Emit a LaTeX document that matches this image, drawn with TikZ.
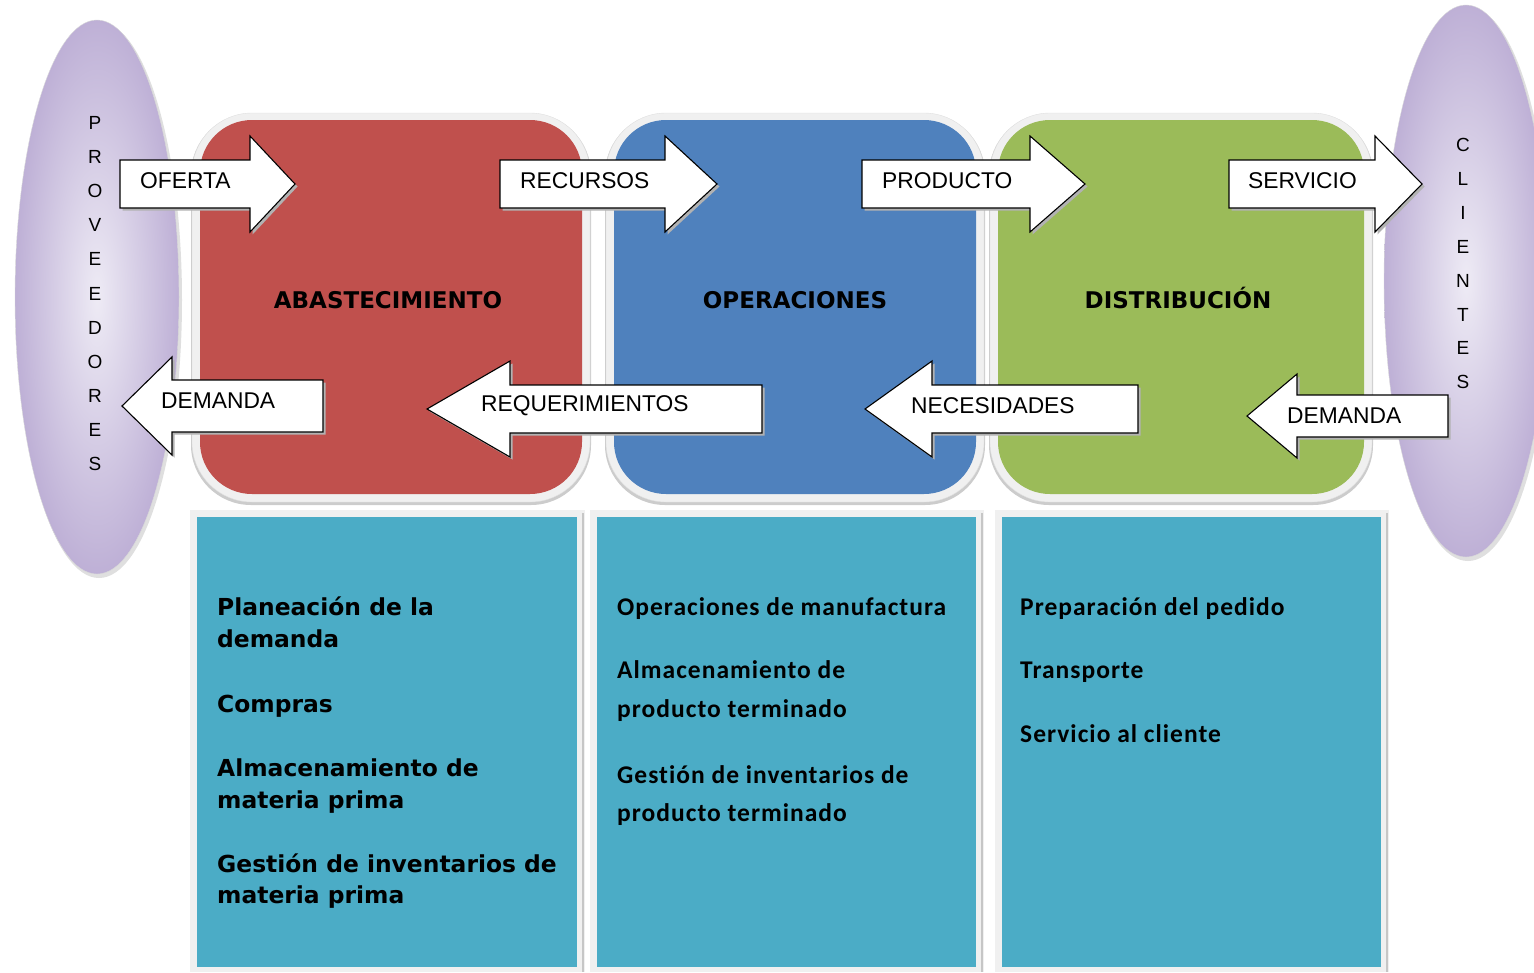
\documentclass[tikz,border=0pt]{standalone}
\usepackage{fontspec}
\setmainfont{Liberation Sans}
\newfontfamily\dvb{DejaVu Sans}
\newfontfamily\clb{Carlito}[LetterSpace=4, Ligatures=NoCommon]
\definecolor{redbox}{HTML}{C0504D}
\definecolor{bluebox}{HTML}{4F81BD}
\definecolor{greenbox}{HTML}{9BBB59}
\definecolor{tealbox}{HTML}{4BACC6}
\definecolor{lavin}{HTML}{EEEBF5}
\definecolor{lavout}{HTML}{BEB0D6}
\definecolor{halo}{HTML}{F0F0F0}
\newcommand{\rarrpath}[6]{(#1,#4-#5) -- (#2,#4-#5) -- (#2,#4-#6) -- (#3,#4) -- (#2,#4+#6) -- (#2,#4+#5) -- (#1,#4+#5) -- cycle}
\newcommand{\rarr}[6]{%
  \fill[arrshadow] \rarrpath{#1}{#2}{#3}{#4}{#5}{#6};
  \draw[arrbox] \rarrpath{#1}{#2}{#3}{#4}{#5}{#6};}
\newcommand{\mainbox}[5]{% x0 x1 y0 y1 colour
  \fill[gray!40, rounded corners=60] (#1-9,#3-6) rectangle (#2+9,#4+11);
  \fill[halo, draw=gray!25, rounded corners=60] (#1-8,#3-7) rectangle (#2+8,#4+8);
  \fill[#5, rounded corners=52] (#1,#3) rectangle (#2,#4);}
\newcommand{\subbox}[4]{% x0 x1 y0 y1 (teal area)
  \fill[halo] (#1-7,#3-7) rectangle (#2+8,#4+5);
  \draw[gray!45, line width=1.5] (#2+6,#3-4) -- (#2+6,#4+5);
  \fill[tealbox] (#1,#3) rectangle (#2,#4);}
\tikzset{
  arrbox/.style={fill=white, draw=black, line width=1.1, line join=miter},
  arrshadow/.style={fill=gray!60, shift={(2.5,2.5)}},
  arrlbl/.style={font=\fontsize{22.8}{27}\selectfont, inner sep=0, anchor=west},
  vlet/.style={font=\fontsize{19}{22}\selectfont, inner sep=0},
  headlbl/.style={font=\dvb\bfseries\fontsize{23}{27}\selectfont, inner sep=0, anchor=base},
  col1/.style={font=\dvb\bfseries\fontsize{23.4}{28}\selectfont, inner sep=0, anchor=base west},
  col2/.style={font=\clb\bfseries\fontsize{25.5}{30}\selectfont, inner sep=0, anchor=base west},
}
\begin{document}
\begin{tikzpicture}[x=1pt, y=-1pt]
\useasboundingbox (0,0) rectangle (1534,972);
\clip (0,0) rectangle (1534,972);
% ellipses
\fill[gray!25] (99,300) ellipse [x radius=83pt, y radius=278pt];
\shade[inner color=lavin, outer color=lavout, draw=gray!30] (97,297) ellipse [x radius=82pt, y radius=277pt];
\fill[gray!25] (1468,284) ellipse [x radius=83pt, y radius=277pt];
\shade[inner color=lavin, outer color=lavout, draw=gray!30] (1466,281) ellipse [x radius=82pt, y radius=276pt];
% vertical words
\foreach \l [count=\i] in {P,R,O,V,E,E,D,O,R,E,S}
  \node[vlet] (prov\i) at (95,{123+34.1*(\i-1)}) {\l};
\foreach \l [count=\i] in {C,L,I,E,N,T,E,S}
  \node[vlet] (cli\i) at (1463,{145+33.9*(\i-1)}) {\l};
% main boxes
\mainbox{200}{582}{120}{494}{redbox}
\mainbox{614}{976}{120}{494}{bluebox}
\mainbox{998}{1364}{120}{494}{greenbox}
\node[headlbl] (abast) at (388,308) {ABASTECIMIENTO};
\node[headlbl] (oper) at (795,308) {OPERACIONES};
\node[headlbl] (distr) at (1178,308) {DISTRIBUCIÓN};
% right arrows
\rarr{120}{250}{295}{184}{24}{48}
\rarr{500}{665}{717}{184}{24}{48}
\rarr{862}{1030}{1085}{184}{24}{48}
\rarr{1229}{1375}{1422}{184}{24}{48}
% left arrows (body end, head base, tip)
\rarr{323}{172}{122}{406}{26}{49}
\rarr{762}{510}{427}{409}{24}{48}
\rarr{1138}{932}{865}{409}{24}{48}
\rarr{1448}{1297}{1247}{416}{21}{42}
\node[arrlbl] (oferta) at (140,181) {OFERTA};
\node[arrlbl] (recursos) at (520,181) {RECURSOS};
\node[arrlbl] (producto) at (882,181) {PRODUCTO};
\node[arrlbl] (servicio) at (1248,181) {SERVICIO};
\node[arrlbl] (demanda1) at (161,401) {DEMANDA};
\node[arrlbl] (requer) at (481,406) {REQUERIMIENTOS};
\node[arrlbl] (necesid) at (911,406) {NECESIDADES};
\node[arrlbl] (demanda2) at (1287,416) {DEMANDA};
% bottom boxes
\subbox{197}{577}{517}{967}
\subbox{597}{976}{517}{967}
\subbox{1002}{1381}{517}{967}
\node[col1] (a1) at (217,615) {Planeación de la};
\node[col1] (a2) at (217,647) {demanda};
\node[col1] (a3) at (217,712) {Compras};
\node[col1] (a4) at (217,776) {Almacenamiento de};
\node[col1] (a5) at (217,808) {materia prima};
\node[col1] (a6) at (217,872) {Gestión de inventarios de};
\node[col1] (a7) at (217,903) {materia prima};
\node[col2] (b1) at (617,615) {Operaciones de manufactura};
\node[col2] (b2) at (617,678) {Almacenamiento de};
\node[col2] (b3) at (617,717) {producto terminado};
\node[col2] (b4) at (617,783) {Gestión de inventarios de};
\node[col2] (b5) at (617,821) {producto terminado};
\node[col2] (c1) at (1020,615) {Preparación del pedido};
\node[col2] (c2) at (1020,678) {Transporte};
\node[col2] (c3) at (1020,742) {Servicio al cliente};
\end{tikzpicture}
\end{document}
